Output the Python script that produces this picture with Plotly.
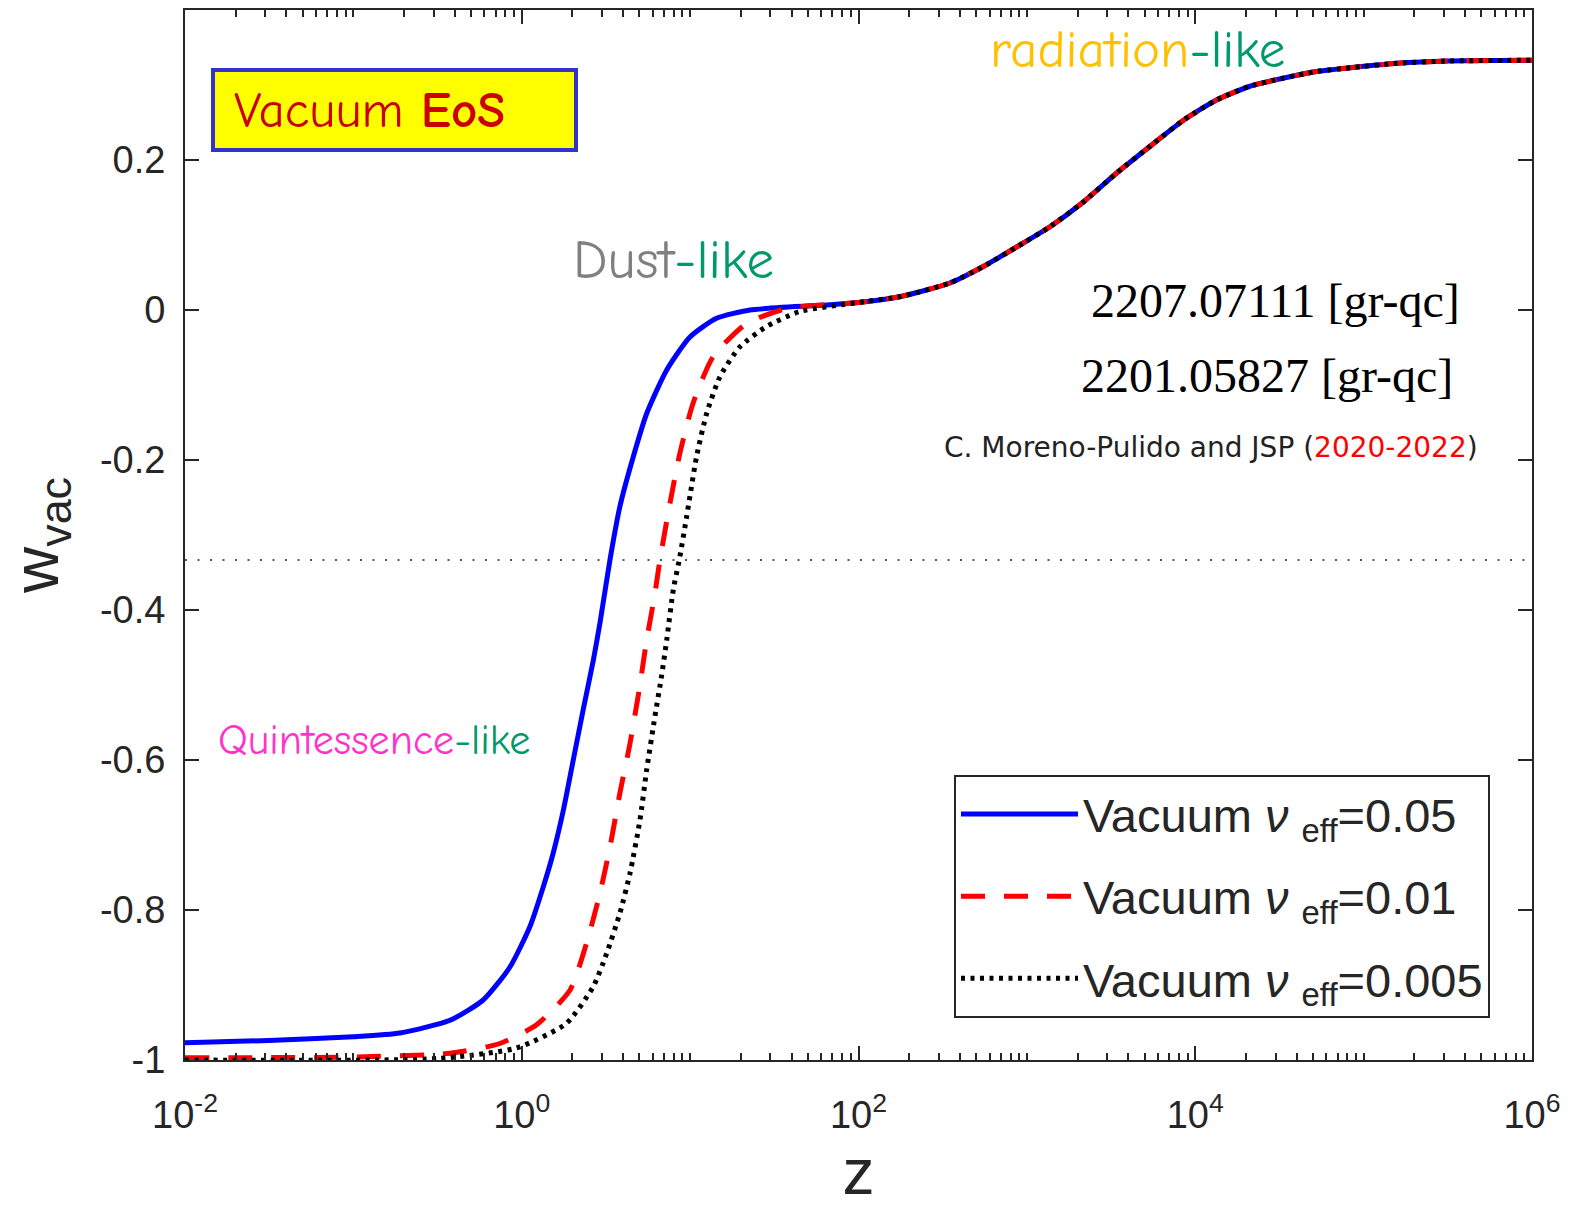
import plotly.graph_objects as go

# ---------------- data ----------------
z_blue = [0.01, 0.0316, 0.1, 0.189, 0.375, 0.590, 0.851, 1.119, 1.343, 1.538, 1.766, 2.023,
          2.317, 2.661, 2.911, 3.342, 3.828, 4.592, 5.521, 7.261, 9.977, 14.35, 22.65, 67.6]
w_blue = [-0.977, -0.974, -0.969, -0.964, -0.947, -0.920, -0.876, -0.822, -0.769, -0.724, -0.667, -0.600,
          -0.533, -0.467, -0.418, -0.333, -0.262, -0.196, -0.138, -0.080, -0.036, -0.011, 0.0, 0.007]

z_red = [0.01, 0.1, 0.375, 0.741, 1.225, 1.932, 2.427, 2.911, 3.342, 3.828, 4.395, 4.977,
         5.521, 6.180, 6.622, 7.586, 8.690, 10.42, 13.71, 21.63, 37.41]
w_red = [-0.997, -0.996, -0.991, -0.978, -0.953, -0.907, -0.844, -0.778, -0.716, -0.644, -0.578, -0.507,
         -0.440, -0.378, -0.333, -0.258, -0.191, -0.124, -0.062, -0.018, 0.002]

z_black = [0.01, 0.316, 0.931, 1.845, 2.661, 3.192, 3.828, 4.395, 5.035, 5.521, 6.180, 6.776,
           7.261, 7.943, 8.690, 9.528, 10.91, 12.53, 15.03, 19.77, 28.44, 44.87]
w_black = [-1.0, -0.998, -0.984, -0.951, -0.902, -0.858, -0.804, -0.751, -0.680, -0.613, -0.542, -0.487,
           -0.440, -0.373, -0.329, -0.276, -0.196, -0.138, -0.089, -0.049, -0.022, -0.002]

# common high-redshift branch (all three curves coincide)
z_common = [100, 178, 349, 551, 869, 1371, 2138, 3388, 5370, 8511, 13370, 20890,
            33110, 52480, 83180, 158500, 316200, 1000000]
w_common = [0.010, 0.018, 0.036, 0.058, 0.084, 0.111, 0.143, 0.182, 0.218, 0.253, 0.280, 0.298,
            0.309, 0.318, 0.323, 0.329, 0.332, 0.333]

z_ref_line = [0.01, 1000000]
w_ref_line = [-1 / 3, -1 / 3]

legend_names = ["Vacuum <i>ν</i> <sub>eff</sub>=0.05",
                "Vacuum <i>ν</i> <sub>eff</sub>=0.01",
                "Vacuum <i>ν</i> <sub>eff</sub>=0.005"]

x_tickvals = [0.01, 1, 100, 1e4, 1e6]
x_ticktext = ["10<sup>-2</sup>", "10<sup>0</sup>", "10<sup>2</sup>", "10<sup>4</sup>", "10<sup>6</sup>"]
y_tickvals = [-1, -0.8, -0.6, -0.4, -0.2, 0, 0.2]
y_ticktext = ["-1", "-0.8", "-0.6", "-0.4", "-0.2", "0", "0.2"]

# ---------------- figure ----------------
fig = go.Figure()

fig.add_trace(go.Scatter(x=z_ref_line, y=w_ref_line, mode="lines",
                         line=dict(color="#555555", width=2, dash="2px,10.5px"),
                         showlegend=False, hoverinfo="skip"))

styles = [
    dict(color="#0000FF", width=5, dash="solid"),
    dict(color="#FF0000", width=5, dash="24px,19px"),
    dict(color="#000000", width=5, dash="4px,5.5px"),
]
series = [(z_blue, w_blue), (z_red, w_red), (z_black, w_black)]
for i, ((zs, ws), st, name) in enumerate(zip(series, styles, legend_names)):
    fig.add_trace(go.Scatter(x=zs + z_common, y=ws + w_common, mode="lines",
                             line=dict(shape="spline", smoothing=0.6, **st),
                             name=name, legendgroup=f"g{i}"))

L, R, T, B = 185, 39, 10, 148
W, H = 1571, 1208
pw, ph = W - L - R, H - T - B


def px(X):
    return (X - L) / pw


def py(Y):
    return (H - B - Y) / ph


axis_col = "#262626"
sans = "Liberation Sans, Arial, sans-serif"
tick_font = dict(family=sans, size=38, color="#262626")

fig.update_layout(
    width=W, height=H,
    margin=dict(l=L, r=R, t=T, b=B, autoexpand=False),
    paper_bgcolor="white", plot_bgcolor="white",
    showlegend=True,
    legend=dict(x=px(1490), y=py(1018), xanchor="right", yanchor="bottom",
                bgcolor="white", bordercolor="#262626", borderwidth=2,
                font=dict(family=sans, size=47, color="#262626"),
                tracegroupgap=18, itemwidth=117),
    xaxis=dict(type="log", range=[-2, 6], showgrid=False, zeroline=False, automargin=False,
               showline=True, linecolor=axis_col, linewidth=2, mirror="ticks",
               ticks="inside", ticklen=14, tickwidth=2, tickcolor=axis_col,
               tickmode="array", tickvals=x_tickvals, ticktext=x_ticktext,
               tickfont=tick_font, ticklabelstandoff=20,
               minor=dict(ticks="inside", dtick="D1", ticklen=7, tickwidth=1.5, tickcolor=axis_col),
               title=dict(text="z", font=dict(family=sans, size=64, color="#262626"), standoff=34)),
    yaxis=dict(range=[-1, 0.4], showgrid=False, zeroline=False, automargin=False,
               showline=True, linecolor=axis_col, linewidth=2, mirror="ticks",
               ticks="inside", ticklen=14, tickwidth=2, tickcolor=axis_col,
               tickmode="array", tickvals=y_tickvals, ticktext=y_ticktext,
               tickfont=tick_font, ticklabelstandoff=10,
               title=dict(text="w<sub>vac</sub>", font=dict(family=sans, size=64, color="#262626"),
                          standoff=26)),
)

# "Vacuum EoS" box
fig.add_shape(type="rect", xref="paper", yref="paper",
              x0=px(213), x1=px(576), y0=py(150), y1=py(70),
              fillcolor="#FFFF00", line=dict(color="#3333CC", width=4), layer="above")

comic = "Comic Sans MS, Comic Neue, Noto Sans, sans-serif"
ann = [
    dict(text="Vacuum <b>EoS</b>", x=px(232), y=py(110), xanchor="left", yanchor="middle",
         font=dict(family=comic, size=51, color="#CC0000")),
    dict(text="<span style='color:#808080'>Dust</span><span style='color:#00996B'>-like</span>",
         x=px(673), y=py(260), xanchor="center", yanchor="middle",
         font=dict(family=comic, size=55)),
    dict(text="<span style='color:#FFC000'>radiation</span><span style='color:#00996B'>-like</span>",
         x=px(1137), y=py(50), xanchor="center", yanchor="middle",
         font=dict(family=comic, size=53)),
    dict(text="<span style='color:#FF33CC'>Quintessence</span><span style='color:#00996B'>-like</span>",
         x=px(374), y=py(740), xanchor="center", yanchor="middle",
         font=dict(family=comic, size=42)),
    dict(text="2207.07111 [gr-qc]", x=px(1462), y=py(300), xanchor="right", yanchor="middle",
         font=dict(family="Liberation Serif, Times New Roman, serif", size=48, color="black")),
    dict(text="2201.05827 [gr-qc]", x=px(1455), y=py(375), xanchor="right", yanchor="middle",
         font=dict(family="Liberation Serif, Times New Roman, serif", size=48, color="black")),
    dict(text="C. Moreno-Pulido and JSP (<span style='color:#FF0000'>2020-2022</span>)",
         x=px(1480), y=py(447), xanchor="right", yanchor="middle",
         font=dict(family="DejaVu Sans, Verdana, sans-serif", size=28, color="#222222")),
]
for a in ann:
    fig.add_annotation(xref="paper", yref="paper", showarrow=False, **a)

fig.write_html("out.html")
